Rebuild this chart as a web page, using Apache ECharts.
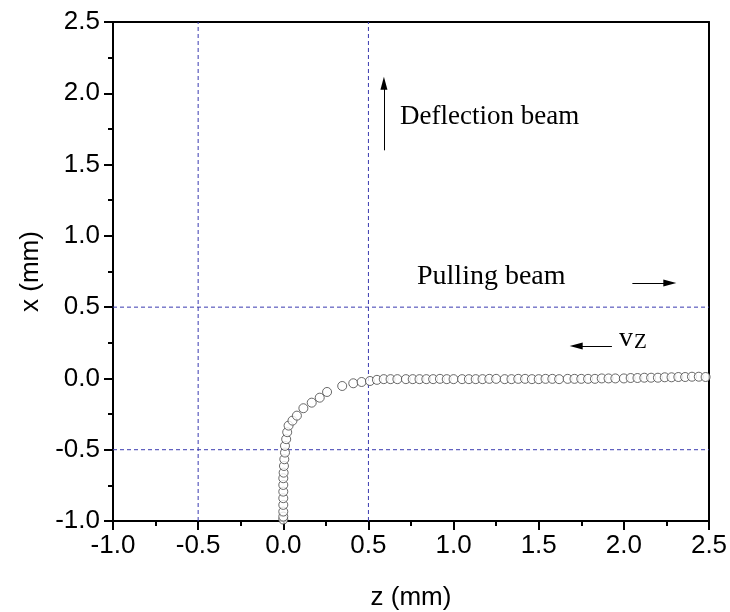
<!DOCTYPE html>
<html><head><meta charset="utf-8">
<script src="https://cdn.jsdelivr.net/npm/echarts@6/dist/echarts.min.js"></script>
<style>html,body{margin:0;padding:0;background:#fff}#c{width:730px;height:612px}</style>
</head><body><div id="c"></div>
<script>
// z (mm) positions of the trajectory points
const zVals = [
  0.000,0.000,0.000,0.000,0.000,0.000,0.000,0.000,0.002,0.004,0.006,0.010,0.010,0.017,0.023,0.031,0.054,0.080,0.118,0.167,0.214,0.257,
  0.346,0.411,0.460,0.509,
  0.55,0.59,0.63,0.67,0.72,0.76,0.80,0.84,0.88,0.92,0.96,1.00,1.05,1.09,1.13,1.17,1.21,1.25,1.30,1.34,1.38,1.42,1.46,1.50,
  1.54,1.58,1.62,1.67,1.71,1.75,1.79,1.83,1.87,1.91,1.95,2.00,2.04,2.08,2.12,2.16,2.20,2.24,2.28,2.32,2.36,2.40,2.44,2.48
];
// x (mm) positions of the trajectory points
const xVals = [
  -0.990,-0.969,-0.934,-0.887,-0.840,-0.794,-0.747,-0.700,-0.661,-0.614,-0.567,-0.520,-0.473,-0.426,-0.377,-0.331,-0.296,-0.261,-0.209,-0.170,-0.135,-0.095,
  -0.053,-0.034,-0.025,-0.018,
  -0.010,-0.005,-0.005,-0.005,-0.005,-0.005,-0.005,-0.005,-0.005,-0.003,-0.005,-0.005,-0.005,-0.005,-0.005,-0.005,-0.003,-0.003,-0.005,-0.005,-0.003,-0.003,-0.005,-0.005,
  -0.003,-0.003,-0.005,-0.003,-0.003,-0.003,-0.003,-0.003,0.000,0.000,0.000,0.000,0.003,0.003,0.005,0.005,0.005,0.008,0.008,0.010,0.010,0.012,0.012,0.010
];
// axis range
const axisMin = -1, axisMax = 2.5;
// dashed guide lines
const vGuides = [-0.5, 0.5];
const hGuides = [0.5, -0.5];
// arrows [z1, x1, z2, x2]
const arrows = [
  [0.591, 1.60, 0.591, 2.07],
  [2.05, 0.67, 2.27, 0.67],
  [1.93, 0.228, 1.72, 0.228]
];
const tickLabelsZ = ['-1.0','-0.5','0.0','0.5','1.0','1.5','2.0','2.5'];

const pts = zVals.map((z, i) => [z, xVals[i]]);
const sans = 'Liberation Sans, Arial, sans-serif';
const serif = 'Liberation Serif, Times New Roman, serif';
const guideStyle = {type: [4, 3], color: '#3a3ab0', width: 1};

const guideSeries = vGuides.map(v => [[v, axisMin], [v, axisMax]])
  .concat(hGuides.map(v => [[axisMin, v], [axisMax, v]]))
  .map(d => ({type: 'line', data: d, symbol: 'none', silent: true, lineStyle: guideStyle, z: 1}));

const chart = echarts.init(document.getElementById('c'));
const axisCommon = {
  min: axisMin, max: axisMax, interval: 0.5,
  axisLine: {show: true, onZero: false, lineStyle: {color: '#000', width: 2}},
  splitLine: {show: false}
};
chart.setOption({
  animation: false,
  grid: {left: 113, right: 21, top: 22, bottom: 91, containLabel: false, outerBoundsMode: 'none'},
  xAxis: [
    Object.assign({}, axisCommon, {
      type: 'value', position: 'bottom',
      name: 'z (mm)', nameLocation: 'middle', nameGap: 64,
      nameTextStyle: {fontFamily: sans, fontSize: 26, color: '#000'},
      axisTick: {show: true, inside: false, length: 9, lineStyle: {color: '#000', width: 2}},
      minorTick: {show: true, splitNumber: 2, length: 5, lineStyle: {color: '#000', width: 2}},
      axisLabel: {fontFamily: sans, fontSize: 26, color: '#000', margin: 12,
        formatter: v => tickLabelsZ[Math.round((v - axisMin) / 0.5)]}
    }),
    Object.assign({}, axisCommon, {
      type: 'value', position: 'top',
      axisTick: {show: false}, axisLabel: {show: false}
    })
  ],
  yAxis: [
    Object.assign({}, axisCommon, {
      type: 'value', position: 'left',
      name: 'x (mm)', nameLocation: 'middle', nameGap: 68,
      nameTextStyle: {fontFamily: sans, fontSize: 26, color: '#000'},
      axisTick: {show: true, inside: false, length: 9, lineStyle: {color: '#000', width: 2}},
      minorTick: {show: true, splitNumber: 2, length: 5, lineStyle: {color: '#000', width: 2}},
      axisLabel: {fontFamily: sans, fontSize: 26, color: '#000', margin: 13,
        formatter: v => v.toFixed(1)}
    }),
    Object.assign({}, axisCommon, {
      type: 'value', position: 'right',
      axisTick: {show: false}, axisLabel: {show: false}
    })
  ],
  series: guideSeries.concat([
    {
      type: 'scatter', data: pts, symbol: 'circle', symbolSize: 9,
      itemStyle: {color: '#fff', borderColor: '#444', borderWidth: 1},
      z: 5
    },
    {
      type: 'scatter', data: [], silent: true,
      markLine: {
        silent: true, symbol: ['none', 'triangle'], symbolSize: [7, 13], label: {show: false},
        lineStyle: {type: 'solid', color: '#000', width: 1},
        data: arrows.map(a => [{coord: [a[0], a[1]]}, {coord: [a[2], a[3]]}])
      }
    }
  ]),
  graphic: [
    {type: 'text', left: 400, top: 103, style: {text: 'Deflection beam', font: '27px ' + serif, fill: '#000'}},
    {type: 'text', left: 417, top: 263, style: {text: 'Pulling beam', font: '28px ' + serif, fill: '#000'}},
    {type: 'text', left: 619, top: 325, style: {
      text: '{v|v}{s|Z}', font: '27px ' + serif, fill: '#000',
      rich: {v: {fontFamily: serif, fontSize: 28, fill: '#000', verticalAlign: 'bottom'},
             s: {fontFamily: serif, fontSize: 21, fill: '#000', padding: [10, 0, 0, 1]}}
    }}
  ]
});
</script></body></html>
